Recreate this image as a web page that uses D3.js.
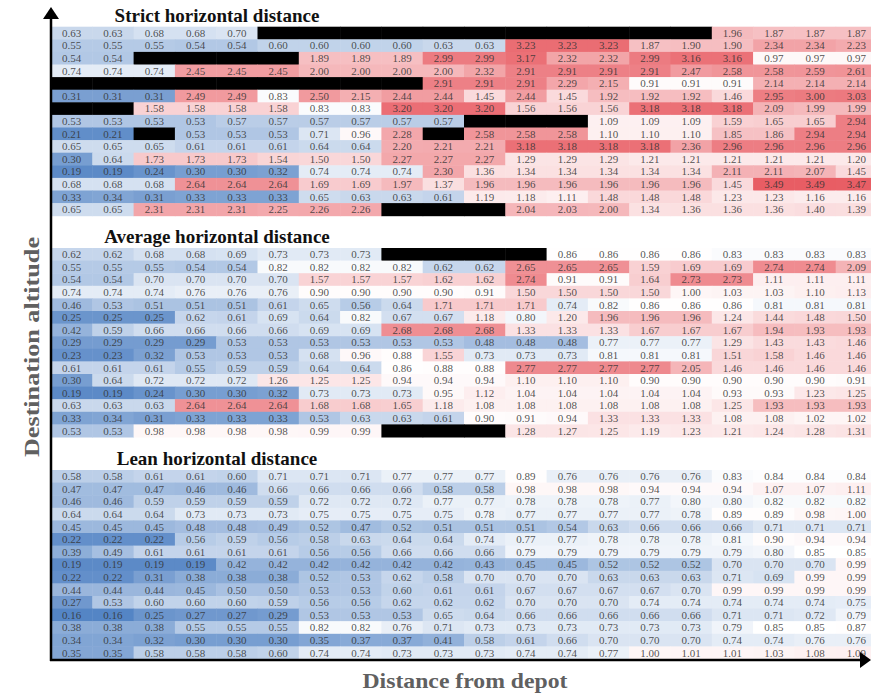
<!DOCTYPE html>
<html>
<head>
<meta charset="utf-8">
<script src="https://cdn.jsdelivr.net/npm/d3@7"></script>
<style>
body { margin: 0; background: #fff; }
</style>
</head>
<body>
<script>
const width = 871
const height = 700

// column / row categories (bins along each axis)
const distanceBins = [1, 2, 3, 4, 5, 6, 7, 8, 9, 10, 11, 12, 13, 14, 15, 16, 17, 18, 19, 20]
const altitudeBins = [15, 14, 13, 12, 11, 10, 9, 8, 7, 6, 5, 4, 3, 2, 1]

const panelTitles = ['Strict horizontal distance', 'Average horizontal distance', 'Lean horizontal distance']

// null = no value (drawn black)
const strict = [
	[0.63, 0.63, 0.68, 0.68, 0.70, null, null, null, null, null, null, null, null, null, null, null, 1.96, 1.87, 1.87, 1.87],
	[0.55, 0.55, 0.55, 0.54, 0.54, 0.60, 0.60, 0.60, 0.60, 0.63, 0.63, 3.23, 3.23, 3.23, 1.87, 1.90, 1.90, 2.34, 2.34, 2.23],
	[0.54, 0.54, null, null, null, null, 1.89, 1.89, 1.89, 2.99, 2.99, 3.17, 2.32, 2.32, 2.99, 3.16, 3.16, 0.97, 0.97, 0.97],
	[0.74, 0.74, 0.74, 2.45, 2.45, 2.45, 2.00, 2.00, 2.00, 2.00, 2.32, 2.91, 2.91, 2.91, 2.91, 2.47, 2.58, 2.58, 2.59, 2.61],
	[null, null, null, null, null, null, null, null, null, 2.91, 2.91, 2.91, 2.29, 2.15, 0.91, 0.91, 0.91, 2.14, 2.14, 2.14],
	[0.31, 0.31, 0.31, 2.49, 2.49, 0.83, 2.50, 2.15, 2.44, 2.44, 1.45, 2.44, 1.45, 1.92, 1.92, 1.92, 1.46, 2.95, 3.00, 3.03],
	[null, null, 1.58, 1.58, 1.58, 1.58, 0.83, 0.83, 3.20, 3.20, 3.20, 1.56, 1.56, 1.56, 3.18, 3.18, 3.18, 2.09, 1.99, 1.99],
	[0.53, 0.53, 0.53, 0.53, 0.57, 0.57, 0.57, 0.57, 0.57, 0.57, null, null, null, 1.09, 1.09, 1.09, 1.59, 1.65, 1.65, 2.94],
	[0.21, 0.21, null, 0.53, 0.53, 0.53, 0.71, 0.96, 2.28, null, 2.58, 2.58, 2.58, 1.10, 1.10, 1.10, 1.85, 1.86, 2.94, 2.94],
	[0.65, 0.65, 0.65, 0.61, 0.61, 0.61, 0.64, 0.64, 2.20, 2.21, 2.21, 3.18, 3.18, 3.18, 3.18, 2.36, 2.96, 2.96, 2.96, 2.96],
	[0.30, 0.64, 1.73, 1.73, 1.73, 1.54, 1.50, 1.50, 2.27, 2.27, 2.27, 1.29, 1.29, 1.29, 1.21, 1.21, 1.21, 1.21, 1.21, 1.20],
	[0.19, 0.19, 0.24, 0.30, 0.30, 0.32, 0.74, 0.74, 0.74, 2.30, 1.36, 1.34, 1.34, 1.34, 1.34, 1.34, 2.11, 2.11, 2.07, 1.45],
	[0.68, 0.68, 0.68, 2.64, 2.64, 2.64, 1.69, 1.69, 1.97, 1.37, 1.96, 1.96, 1.96, 1.96, 1.96, 1.96, 1.45, 3.49, 3.49, 3.47],
	[0.33, 0.34, 0.31, 0.33, 0.33, 0.33, 0.65, 0.63, 0.63, 0.61, 1.19, 1.18, 1.11, 1.48, 1.48, 1.48, 1.23, 1.23, 1.16, 1.16],
	[0.65, 0.65, 2.31, 2.31, 2.31, 2.25, 2.26, 2.26, null, null, null, 2.04, 2.03, 2.00, 1.34, 1.36, 1.36, 1.36, 1.40, 1.39]
]

const average = [
	[0.62, 0.62, 0.68, 0.68, 0.69, 0.73, 0.73, 0.73, null, null, null, null, 0.86, 0.86, 0.86, 0.86, 0.83, 0.83, 0.83, 0.83],
	[0.55, 0.55, 0.55, 0.54, 0.54, 0.82, 0.82, 0.82, 0.82, 0.62, 0.62, 2.65, 2.65, 2.65, 1.59, 1.69, 1.69, 2.74, 2.74, 2.09],
	[0.54, 0.54, 0.70, 0.70, 0.70, 0.70, 1.57, 1.57, 1.57, 1.62, 1.62, 2.74, 0.91, 0.91, 1.64, 2.73, 2.73, 1.11, 1.11, 1.11],
	[0.74, 0.74, 0.74, 0.76, 0.76, 0.76, 0.90, 0.90, 0.90, 0.90, 0.91, 1.50, 1.50, 1.50, 1.50, 1.00, 1.03, 1.03, 1.10, 1.13],
	[0.46, 0.53, 0.51, 0.51, 0.51, 0.61, 0.65, 0.56, 0.64, 1.71, 1.71, 1.71, 0.74, 0.82, 0.86, 0.86, 0.86, 0.81, 0.81, 0.81],
	[0.25, 0.25, 0.25, 0.62, 0.61, 0.69, 0.64, 0.82, 0.67, 0.67, 1.18, 0.80, 1.20, 1.96, 1.96, 1.96, 1.24, 1.44, 1.48, 1.50],
	[0.42, 0.59, 0.66, 0.66, 0.66, 0.66, 0.69, 0.69, 2.68, 2.68, 2.68, 1.33, 1.33, 1.33, 1.67, 1.67, 1.67, 1.94, 1.93, 1.93],
	[0.29, 0.29, 0.29, 0.29, 0.53, 0.53, 0.53, 0.53, 0.53, 0.53, 0.48, 0.48, 0.48, 0.77, 0.77, 0.77, 1.29, 1.43, 1.43, 1.46],
	[0.23, 0.23, 0.32, 0.53, 0.53, 0.53, 0.68, 0.96, 0.88, 1.55, 0.73, 0.73, 0.73, 0.81, 0.81, 0.81, 1.51, 1.58, 1.46, 1.46],
	[0.61, 0.61, 0.61, 0.55, 0.59, 0.59, 0.64, 0.64, 0.86, 0.88, 0.88, 2.77, 2.77, 2.77, 2.77, 2.05, 1.46, 1.46, 1.46, 1.46],
	[0.30, 0.64, 0.72, 0.72, 0.72, 1.26, 1.25, 1.25, 0.94, 0.94, 0.94, 1.10, 1.10, 1.10, 0.90, 0.90, 0.90, 0.90, 0.90, 0.91],
	[0.19, 0.19, 0.24, 0.30, 0.30, 0.32, 0.73, 0.73, 0.73, 0.95, 1.12, 1.04, 1.04, 1.04, 1.04, 1.04, 0.93, 0.93, 1.23, 1.25],
	[0.63, 0.63, 0.63, 2.64, 2.64, 2.64, 1.68, 1.68, 1.65, 1.18, 1.08, 1.08, 1.08, 1.08, 1.08, 1.08, 1.25, 1.93, 1.93, 1.93],
	[0.33, 0.34, 0.31, 0.33, 0.33, 0.33, 0.53, 0.63, 0.63, 0.61, 0.90, 0.91, 0.94, 1.33, 1.33, 1.33, 1.08, 1.08, 1.02, 1.02],
	[0.53, 0.53, 0.98, 0.98, 0.98, 0.98, 0.99, 0.99, null, null, null, 1.28, 1.27, 1.25, 1.19, 1.23, 1.21, 1.24, 1.28, 1.31]
]

const lean = [
	[0.58, 0.58, 0.61, 0.61, 0.60, 0.71, 0.71, 0.71, 0.77, 0.77, 0.77, 0.89, 0.76, 0.76, 0.76, 0.76, 0.83, 0.84, 0.84, 0.84],
	[0.47, 0.47, 0.47, 0.46, 0.46, 0.66, 0.66, 0.66, 0.66, 0.58, 0.58, 0.98, 0.98, 0.98, 0.94, 0.94, 0.94, 1.07, 1.07, 1.11],
	[0.46, 0.46, 0.59, 0.59, 0.59, 0.59, 0.72, 0.72, 0.72, 0.77, 0.77, 0.78, 0.78, 0.78, 0.77, 0.80, 0.80, 0.82, 0.82, 0.82],
	[0.64, 0.64, 0.64, 0.73, 0.73, 0.73, 0.75, 0.75, 0.75, 0.75, 0.78, 0.77, 0.77, 0.77, 0.77, 0.78, 0.89, 0.89, 0.98, 1.00],
	[0.45, 0.45, 0.45, 0.48, 0.48, 0.49, 0.52, 0.47, 0.52, 0.51, 0.51, 0.51, 0.54, 0.63, 0.66, 0.66, 0.66, 0.71, 0.71, 0.71],
	[0.22, 0.22, 0.22, 0.56, 0.59, 0.56, 0.58, 0.63, 0.64, 0.64, 0.74, 0.77, 0.77, 0.78, 0.78, 0.78, 0.81, 0.90, 0.94, 0.94],
	[0.39, 0.49, 0.61, 0.61, 0.61, 0.61, 0.56, 0.56, 0.66, 0.66, 0.66, 0.79, 0.79, 0.79, 0.79, 0.79, 0.79, 0.80, 0.85, 0.85],
	[0.19, 0.19, 0.19, 0.19, 0.42, 0.42, 0.42, 0.42, 0.42, 0.42, 0.43, 0.45, 0.45, 0.52, 0.52, 0.52, 0.70, 0.70, 0.70, 0.99],
	[0.22, 0.22, 0.31, 0.38, 0.38, 0.38, 0.52, 0.53, 0.62, 0.58, 0.70, 0.70, 0.70, 0.63, 0.63, 0.63, 0.71, 0.69, 0.99, 0.99],
	[0.44, 0.44, 0.44, 0.45, 0.50, 0.50, 0.53, 0.53, 0.60, 0.61, 0.61, 0.67, 0.67, 0.67, 0.67, 0.70, 0.99, 0.99, 0.99, 0.99],
	[0.27, 0.53, 0.60, 0.60, 0.60, 0.59, 0.56, 0.56, 0.62, 0.62, 0.62, 0.70, 0.70, 0.70, 0.74, 0.74, 0.74, 0.74, 0.74, 0.75],
	[0.16, 0.16, 0.25, 0.27, 0.27, 0.29, 0.53, 0.53, 0.53, 0.65, 0.64, 0.66, 0.66, 0.66, 0.66, 0.66, 0.71, 0.71, 0.72, 0.79],
	[0.38, 0.38, 0.38, 0.55, 0.55, 0.55, 0.82, 0.82, 0.76, 0.71, 0.73, 0.73, 0.73, 0.73, 0.73, 0.73, 0.79, 0.85, 0.85, 0.87],
	[0.34, 0.34, 0.32, 0.30, 0.30, 0.30, 0.35, 0.37, 0.37, 0.41, 0.58, 0.61, 0.66, 0.70, 0.70, 0.70, 0.74, 0.74, 0.76, 0.76],
	[0.35, 0.35, 0.58, 0.58, 0.58, 0.60, 0.74, 0.74, 0.73, 0.73, 0.73, 0.74, 0.74, 0.77, 1.00, 1.01, 1.01, 1.03, 1.08, 1.09]
]

const panels = [strict, average, lean]

const fmt = d3.format('.2f')

// blue - white - red, white sits a bit under 1
const color = d3.scaleLinear()
	.domain([0.15, 0.85, 3.5])
	.range(['#5283c4', '#ffffff', '#e85c63'])
	.clamp(true)

const x = d3.scaleBand()
	.domain(distanceBins)
	.range([51, 877])

const panelTop = [26.7, 248, 470]
const panelHeight = 189

const svg = d3.select('body').append('svg')
	.attr('width', width)
	.attr('height', height)
	.style('font-family', '"Liberation Serif", "Times New Roman", serif')

panels.forEach((matrix, p) => {
	const y = d3.scaleBand()
		.domain(altitudeBins)
		.range([panelTop[p], panelTop[p] + panelHeight])

	const cells = []
	matrix.forEach((row, i) => {
		row.forEach((v, j) => cells.push({ alt: altitudeBins[i], dist: distanceBins[j], v }))
	})

	const g = svg.append('g').attr('class', 'panel')

	g.selectAll('rect')
		.data(cells)
		.enter().append('rect')
		.attr('x', d => x(d.dist))
		.attr('y', d => y(d.alt))
		.attr('width', x.bandwidth() + 0.5)
		.attr('height', y.bandwidth() + 0.5)
		.attr('fill', d => d.v === null ? '#000' : color(d.v))

	g.selectAll('text.val')
		.data(cells.filter(d => d.v !== null))
		.enter().append('text')
		.attr('class', 'val')
		.attr('x', d => x(d.dist) + x.bandwidth() / 2)
		.attr('y', d => y(d.alt) + y.bandwidth() / 2)
		.attr('dy', '0.35em')
		.attr('text-anchor', 'middle')
		.attr('font-size', 11)
		.attr('fill', '#333')
		.attr('fill-opacity', 0.85)
		.text(d => fmt(d.v))

	// panel title
	svg.append('text')
		.attr('x', 217)
		.attr('y', panelTop[p] - 5)
		.attr('text-anchor', 'middle')
		.attr('font-size', 19)
		.attr('font-weight', 'bold')
		.attr('fill', '#111')
		.text(panelTitles[p])
})

// axes with arrow heads
svg.append('line')
	.attr('x1', 51).attr('y1', 16)
	.attr('x2', 51).attr('y2', 661)
	.attr('stroke', '#000').attr('stroke-width', 2.5)
svg.append('path')
	.attr('d', 'M51,7 L59,19 L43,19 Z')
	.attr('fill', '#000')

svg.append('line')
	.attr('x1', 50).attr('y1', 660)
	.attr('x2', 864).attr('y2', 660)
	.attr('stroke', '#000').attr('stroke-width', 2.5)
svg.append('path')
	.attr('d', 'M871,660 L860,652 L860,668 Z')
	.attr('fill', '#000')

// axis titles
svg.append('text')
	.attr('x', 465)
	.attr('y', 688)
	.attr('text-anchor', 'middle')
	.attr('font-size', 22)
	.attr('font-weight', 'bold')
	.attr('fill', '#606060')
	.attr('textLength', 205)
	.attr('lengthAdjust', 'spacingAndGlyphs')
	.text('Distance from depot')

svg.append('text')
	.attr('transform', 'translate(39,347) rotate(-90)')
	.attr('text-anchor', 'middle')
	.attr('font-size', 21)
	.attr('font-weight', 'bold')
	.attr('fill', '#606060')
	.attr('textLength', 220)
	.attr('lengthAdjust', 'spacingAndGlyphs')
	.text('Destination altitude')
</script>
</body>
</html>
